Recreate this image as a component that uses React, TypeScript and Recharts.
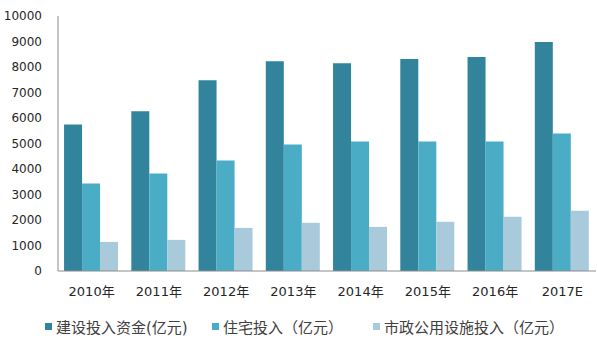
import React from 'react';
import { BarChart, Bar, XAxis, YAxis, Legend } from 'recharts';

const YEARS = ['2010年', '2011年', '2012年', '2013年', '2014年', '2015年', '2016年', '2017E'];
const CONSTRUCTION = [5750, 6260, 7480, 8230, 8150, 8310, 8390, 8980];
const HOUSING = [3430, 3820, 4330, 4960, 5080, 5080, 5080, 5390];
const MUNICIPAL = [1140, 1220, 1690, 1890, 1730, 1930, 2130, 2360];
const Y_TICKS = [0, 1000, 2000, 3000, 4000, 5000, 6000, 7000, 8000, 9000, 10000];

const SERIES = [
  { key: 'construction', name: '建设投入资金(亿元)', color: '#31849B' },
  { key: 'housing', name: '住宅投入（亿元）', color: '#4BACC6' },
  { key: 'municipal', name: '市政公用设施投入（亿元）', color: '#A8CADA' },
];

const data = YEARS.map((year, i) => ({
  year,
  construction: CONSTRUCTION[i],
  housing: HOUSING[i],
  municipal: MUNICIPAL[i],
}));

const FONT = '"DejaVu Sans", "Noto Sans CJK SC", sans-serif';

const renderLegend = () => {
  const lefts = [45, 212, 373];
  return (
    <div style={{ position: 'relative', height: 20, fontFamily: FONT, fontSize: 15, color: '#404040' }}>
      {SERIES.map((s, i) => (
        <div
          key={s.key}
          style={{ position: 'absolute', left: lefts[i], top: 0, display: 'flex', alignItems: 'center', whiteSpace: 'nowrap' }}
        >
          <span style={{ display: 'inline-block', width: 7, height: 7, background: s.color, marginRight: 4 }} />
          <span>{s.name}</span>
        </div>
      ))}
    </div>
  );
};

export default function App() {
  return (
    <div style={{ position: 'absolute', left: 0, top: 0, width: 597, height: 342, background: '#fff' }}>
      <BarChart
        width={597}
        height={342}
        data={data}
        margin={{ top: 16, right: 1, bottom: 21, left: 0 }}
        barCategoryGap="9%"
        barGap={0}
      >
        <XAxis
          dataKey="year"
          tickLine={false}
          axisLine={{ stroke: '#8c8c8c' }}
          tickMargin={10}
          tick={{ fill: '#262626', fontSize: 13, fontFamily: FONT }}
          interval={0}
        />
        <YAxis
          width={58}
          domain={[0, 10000]}
          ticks={Y_TICKS}
          tickLine={false}
          axisLine={{ stroke: '#8c8c8c' }}
          tickMargin={10}
          tick={{ fill: '#262626', fontSize: 12, fontFamily: FONT }}
        />
        <Legend
          content={renderLegend}
          wrapperStyle={{ position: 'absolute', left: 0, top: 316, width: 597 }}
        />
        {SERIES.map((s) => (
          <Bar key={s.key} dataKey={s.key} name={s.name} fill={s.color} isAnimationActive={false} />
        ))}
      </BarChart>
    </div>
  );
}
